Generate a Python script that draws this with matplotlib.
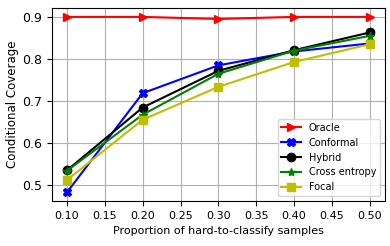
import matplotlib
matplotlib.use('Agg')
import matplotlib.pyplot as plt

proportions = [0.10, 0.20, 0.30, 0.40, 0.50]
oracle = [0.900, 0.900, 0.895, 0.900, 0.900]
conformal = [0.484, 0.719, 0.785, 0.818, 0.837]
hybrid = [0.536, 0.685, 0.772, 0.821, 0.863]
cross_entropy = [0.535, 0.668, 0.765, 0.820, 0.855]
focal = [0.513, 0.656, 0.734, 0.793, 0.835]

plt.rcParams['font.size'] = 8

fig, ax = plt.subplots(figsize=(3.9, 2.46), dpi=100)

ax.plot(proportions, oracle, marker='>', color='r', label='Oracle', lw=1.5, ms=6)
ax.plot(proportions, conformal, marker='X', color='b', label='Conformal', lw=1.5, ms=6)
ax.plot(proportions, hybrid, marker='o', color='k', label='Hybrid', lw=1.5, ms=6)
ax.plot(proportions, cross_entropy, marker='*', color='g', label='Cross entropy', lw=1.5, ms=6)
ax.plot(proportions, focal, marker='s', color='y', label='Focal', lw=1.5, ms=6)

ax.set_xticks([0.10, 0.15, 0.20, 0.25, 0.30, 0.35, 0.40, 0.45, 0.50])
ax.set_xticklabels(['0.10', '0.15', '0.20', '0.25', '0.30', '0.35', '0.40', '0.45', '0.50'])
ax.tick_params(axis='x', labelsize=8)
ax.tick_params(axis='y', labelsize=9)
ax.set_xlabel('Proportion of hard-to-classify samples', fontsize=8)
ax.set_ylabel('Conditional Coverage', fontsize=8.5, labelpad=2)
ax.grid(True)
ax.legend(loc='lower right', fontsize=7)

fig.subplots_adjust(left=0.133, right=0.987, top=0.967, bottom=0.183)
plt.savefig('out.png')
